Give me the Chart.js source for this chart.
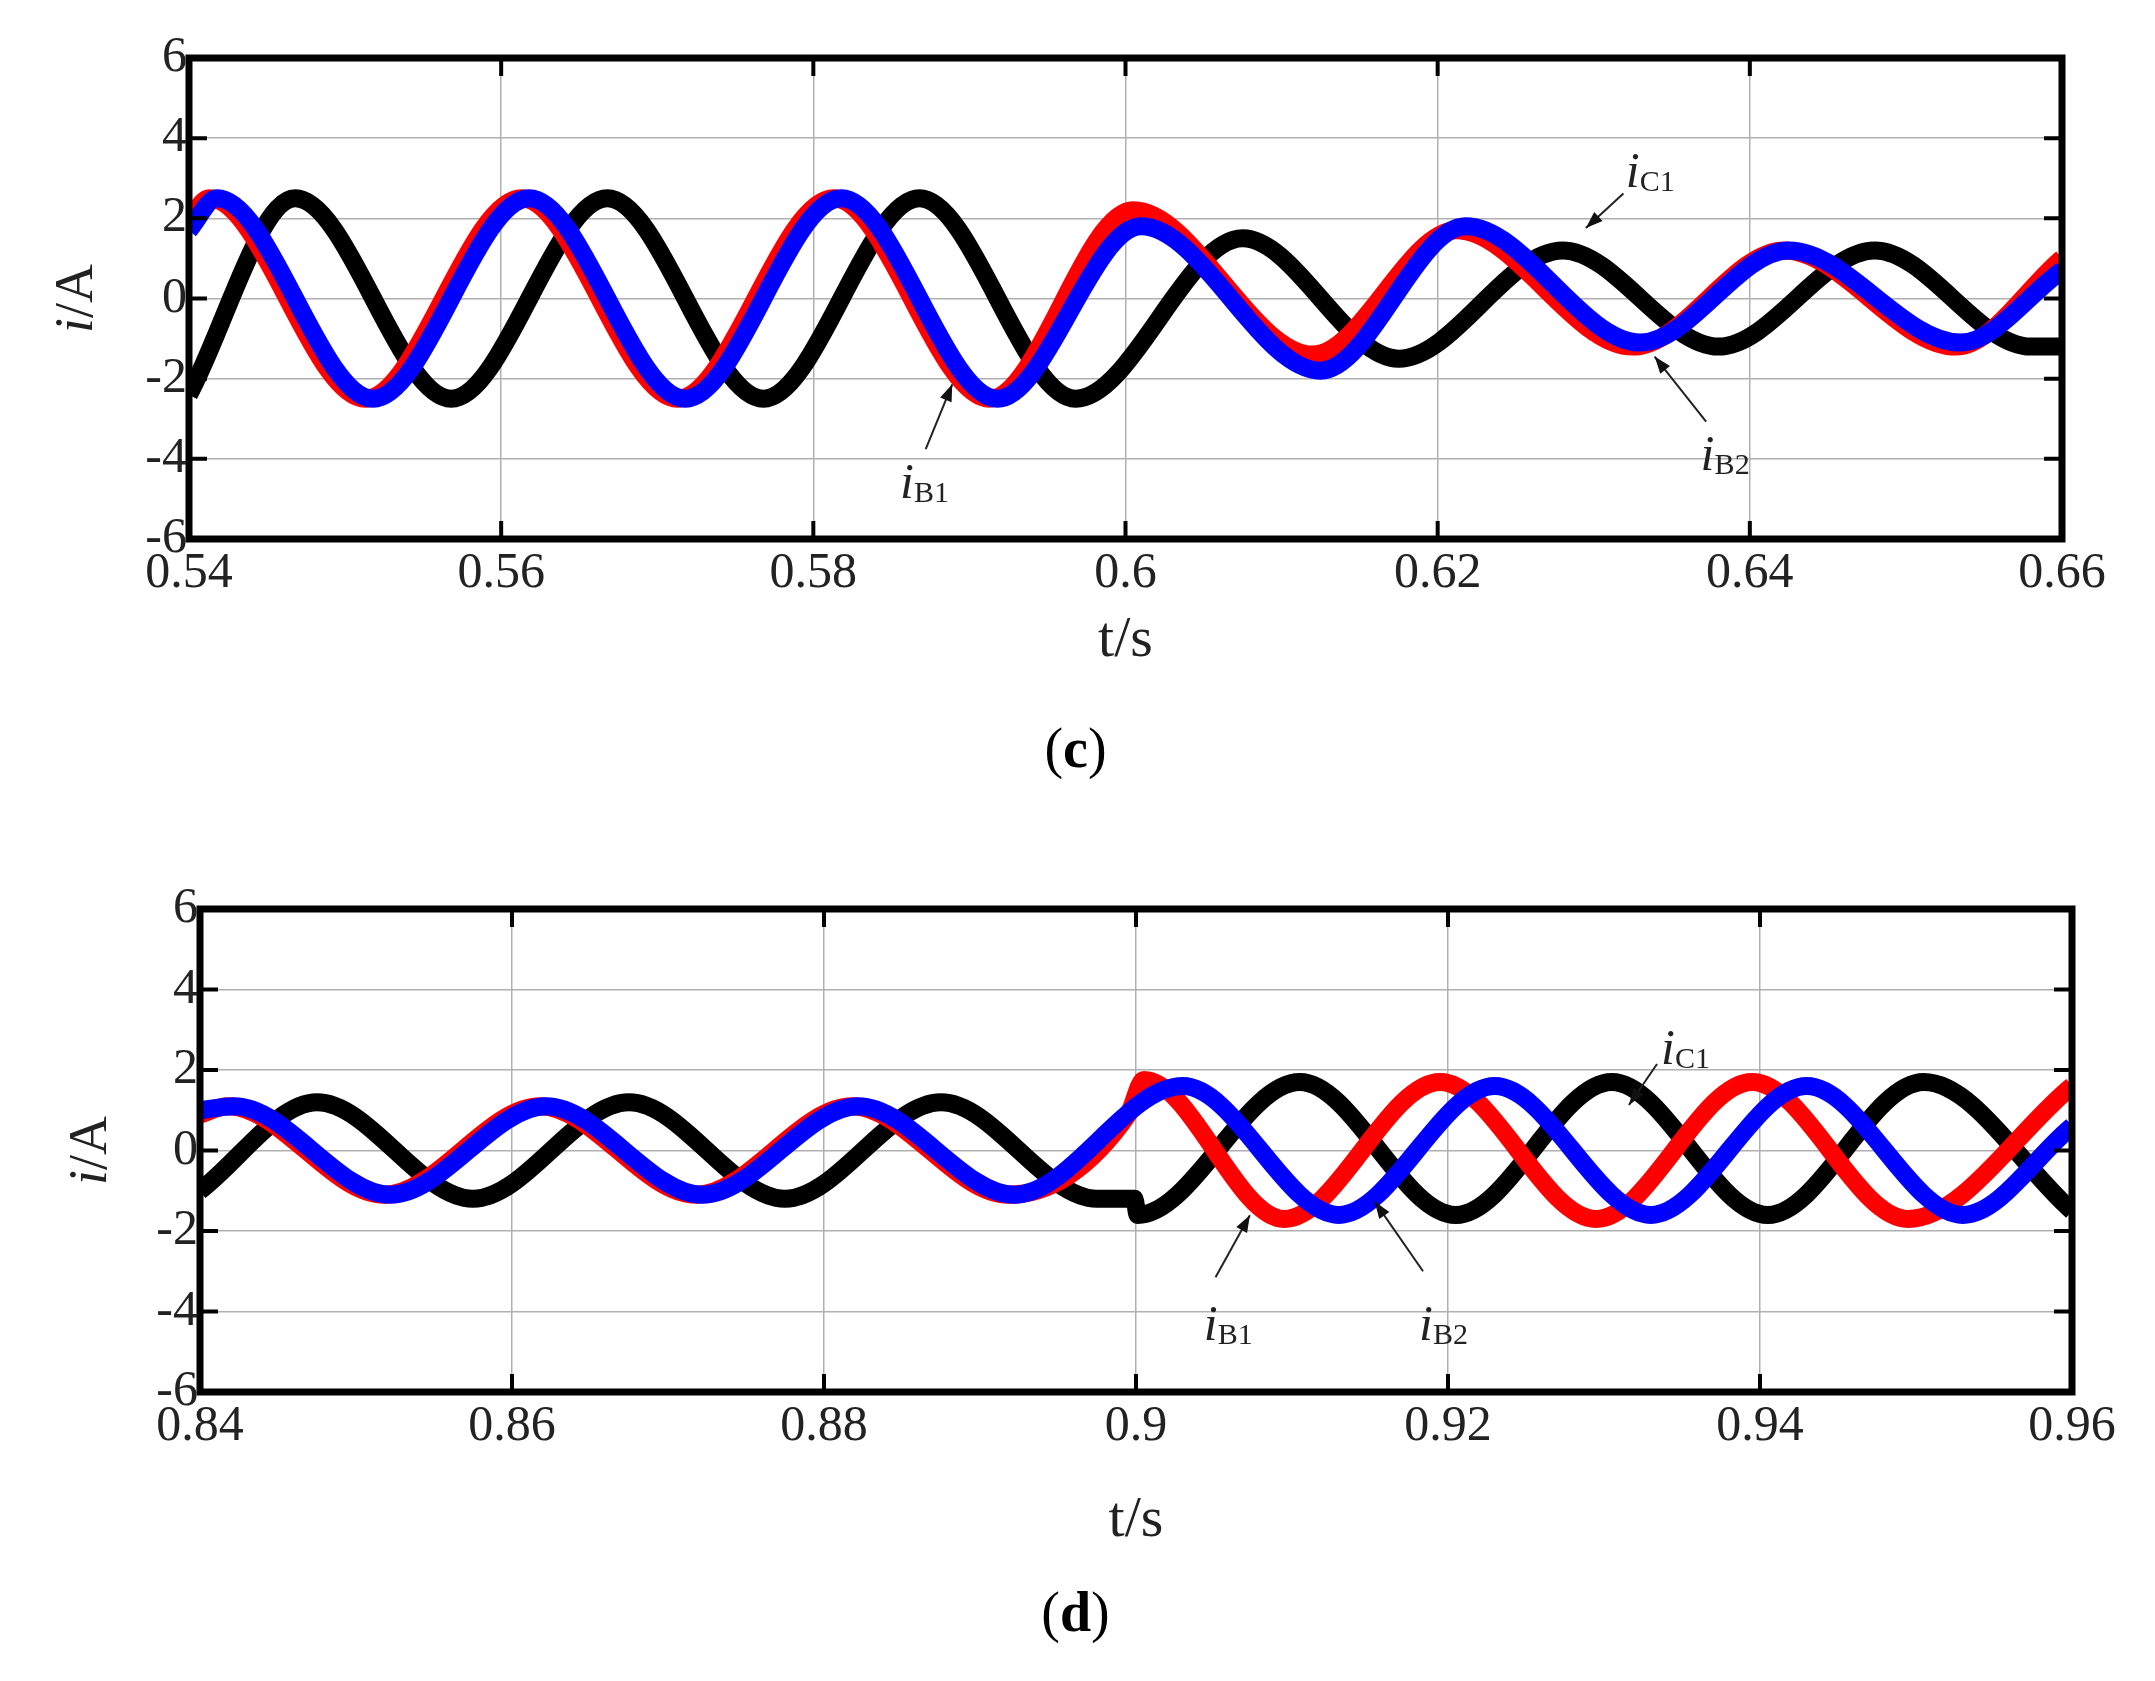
<!DOCTYPE html>
<html><head><meta charset="utf-8">
<script src="https://cdn.jsdelivr.net/npm/chart.js@4/dist/chart.umd.min.js"></script>
<style>
body{margin:0;background:#fff;width:2155px;height:1681px;position:relative;overflow:hidden;font-family:"Liberation Serif",serif}
.wrap{position:absolute;left:0;width:2155px;height:840px}
.lab{position:absolute;width:2155px;text-align:center;font-size:56px}
</style></head><body>
<div class="wrap" style="top:0"><canvas id="c1" width="2155" height="840"></canvas></div>
<div class="wrap" style="top:840px"><canvas id="c2" width="2155" height="841"></canvas></div>
<div class="lab" style="top:716px;left:-2px">(<b>c</b>)</div>
<div class="lab" style="top:1580px;left:-2px">(<b>d</b>)</div>
<script>
// ---- data (c) ----
const cB1_t=[0.54,0.5413,0.5513,0.5613,0.5713,0.5813,0.5913,0.6005,0.612,0.6212,0.6325,0.6422,0.6532,0.66];
const cB1_i=[2.0,2.5,-2.5,2.5,-2.5,2.5,-2.5,2.2,-1.4,1.7,-1.2,1.2,-1.2,1.0];
const cB2_t=[0.54,0.5418,0.5518,0.5618,0.5718,0.5818,0.5918,0.601,0.6125,0.6218,0.633,0.6425,0.6535,0.66];
const cB2_i=[1.7,2.5,-2.5,2.5,-2.5,2.5,-2.5,1.8,-1.8,1.8,-1.1,1.2,-1.1,0.7];
const cC1_t=[0.54,0.5468,0.5568,0.5668,0.5768,0.5868,0.5968,0.6075,0.6175,0.628,0.638,0.648,0.658,0.66];
const cC1_i=[-2.4,2.5,-2.5,2.5,-2.5,2.5,-2.5,1.5,-1.5,1.2,-1.2,1.2,-1.2,-1.2];
// ---- data (d) ----
const dB1_t=[0.84,0.8418,0.8518,0.8618,0.8718,0.8818,0.8918,0.8995,0.9005,0.9095,0.9195,0.9295,0.9395,0.9495,0.96];
const dB1_i=[0.9,1.1,-1.1,1.1,-1.1,1.1,-1.1,0.9,1.75,-1.7,1.7,-1.7,1.7,-1.7,1.6];
const dB2_t=[0.84,0.8422,0.8522,0.8622,0.8722,0.8822,0.8922,0.903,0.913,0.923,0.933,0.943,0.953,0.96];
const dB2_i=[1.0,1.1,-1.1,1.1,-1.1,1.1,-1.1,1.6,-1.6,1.6,-1.6,1.6,-1.6,0.6];
const dC1_t=[0.84,0.8475,0.8575,0.8675,0.8775,0.8875,0.8975,0.8999,0.9001,0.9105,0.9205,0.9305,0.9405,0.9505,0.96];
const dC1_i=[-1.0,1.2,-1.2,1.2,-1.2,1.2,-1.2,-1.2,-1.6,1.7,-1.6,1.7,-1.6,1.7,-1.5];
const yTicks=[6,4,2,0,-2,-4,-6];
const xTicksC=[0.54,0.56,0.58,0.6,0.62,0.64,0.66];
const xTicksD=[0.84,0.86,0.88,0.9,0.92,0.94,0.96];
// annotations: [label, sub, textX, textY, fromX, fromY, toX, toY]
const annC=[["i","C1",0.6332,3.14,0.6319,2.62,0.6295,1.76],["i","B1",0.5867,-4.62,0.5872,-3.76,0.5889,-2.14],["i","B2",0.638,-3.93,0.6372,-3.07,0.6339,-1.45]];
const annD=[["i","C1",0.9348,2.5,0.9334,2.15,0.9316,1.13],["i","B1",0.9055,-4.35,0.9051,-3.15,0.9073,-1.61],["i","B2",0.9193,-4.35,0.9184,-3.0,0.9153,-1.27]];

const pts=(t,v)=>t.map((x,k)=>({x:x,y:v[k]}));
const F='"Liberation Serif", serif';

function make(id,series,xt,ann,g){
  const deco={id:'deco',
    afterDatasetsDraw(ch){
      const c=ch.ctx,a=ch.chartArea,xs=ch.scales.x,ys=ch.scales.y;
      c.save();
      c.strokeStyle='#000';c.lineWidth=4;
      xt.forEach(v=>{const px=xs.getPixelForValue(v);c.beginPath();c.moveTo(px,a.top);c.lineTo(px,a.top+18);c.moveTo(px,a.bottom);c.lineTo(px,a.bottom-18);c.stroke();});
      yTicks.forEach(v=>{const py=ys.getPixelForValue(v);c.beginPath();c.moveTo(a.left,py);c.lineTo(a.left+18,py);c.moveTo(a.right,py);c.lineTo(a.right-18,py);c.stroke();});
      c.lineWidth=7;c.strokeRect(a.left,a.top,a.right-a.left,a.bottom-a.top);
      c.fillStyle='#222';c.font='50px '+F;c.textAlign='right';c.textBaseline='middle';
      yTicks.forEach(v=>c.fillText(String(v),a.left-2,ys.getPixelForValue(v)));
      c.textAlign='center';c.textBaseline='top';
      xt.forEach(v=>c.fillText(String(v),xs.getPixelForValue(v),a.bottom+10));
      c.font='58px '+F;c.fillText('t/s',(a.left+a.right)/2,g.tsY);
      c.save();c.translate(g.iaX,(a.top+a.bottom)/2);c.rotate(-Math.PI/2);c.textBaseline='middle';
      c.font='italic 54px '+F;const w1=c.measureText('i').width;c.font='54px '+F;const w2=c.measureText('/A').width;
      c.textAlign='left';c.font='italic 54px '+F;c.fillText('i',-(w1+w2)/2,0);c.font='54px '+F;c.fillText('/A',-(w1+w2)/2+w1,0);c.restore();
      ann.forEach(([l,s,tx,ty,fx,fy,ex,ey])=>{
        const x0=xs.getPixelForValue(fx),y0=ys.getPixelForValue(fy),x1=xs.getPixelForValue(ex),y1=ys.getPixelForValue(ey);
        c.strokeStyle='#222';c.lineWidth=2;c.beginPath();c.moveTo(x0,y0);c.lineTo(x1,y1);c.stroke();
        const an=Math.atan2(y1-y0,x1-x0);c.fillStyle='#111';c.beginPath();c.moveTo(x1,y1);
        c.lineTo(x1-18*Math.cos(an-0.35),y1-18*Math.sin(an-0.35));c.lineTo(x1-18*Math.cos(an+0.35),y1-18*Math.sin(an+0.35));c.fill();
        const px=xs.getPixelForValue(tx),py=ys.getPixelForValue(ty);
        c.textAlign='left';c.textBaseline='alphabetic';c.fillStyle='#222';
        c.font='italic 50px '+F;c.fillText(l,px-18,py+14);c.font='30px '+F;c.fillText(s,px-4,py+18);
      });
      c.restore();
    }};
  new Chart(document.getElementById(id),{type:'line',
    data:{datasets:series.map(([d,col])=>({data:d,borderColor:col,borderWidth:18,pointRadius:0,cubicInterpolationMode:'monotone',fill:false}))},
    options:{responsive:false,animation:false,
      layout:{padding:{left:g.left-100,right:2155-g.right,top:g.top,bottom:g.h-g.bottom-60}},
      plugins:{legend:{display:false},tooltip:{enabled:false}},
      scales:{
        x:{type:'linear',min:xt[0],max:xt[6],afterFit(s){s.height=60;},
          afterBuildTicks(s){s.ticks=xt.map(v=>({value:v}));},
          ticks:{display:false},border:{display:false},grid:{color:'#b0b0b0',lineWidth:1.5,borderDash:[2,5],drawTicks:false}},
        y:{min:-6,max:6,afterFit(s){s.width=100;},
          afterBuildTicks(s){s.ticks=yTicks.map(v=>({value:v}));},
          ticks:{display:false},border:{display:false},grid:{color:'#b0b0b0',lineWidth:1.5,borderDash:[2,5],drawTicks:false}}}},
    plugins:[deco]});
}
// dataset index 0 is drawn on top
make('c1',[[pts(cB2_t,cB2_i),'#0000ff'],[pts(cB1_t,cB1_i),'#ff0000'],[pts(cC1_t,cC1_i),'#000']],xTicksC,annC,
  {left:189,right:2062,top:58,bottom:539,h:840,tsY:612,iaX:78});
make('c2',[[pts(dB2_t,dB2_i),'#0000ff'],[pts(dB1_t,dB1_i),'#ff0000'],[pts(dC1_t,dC1_i),'#000']],xTicksD,annD,
  {left:200,right:2072,top:69,bottom:552,h:841,tsY:652,iaX:92});
</script></body></html>
